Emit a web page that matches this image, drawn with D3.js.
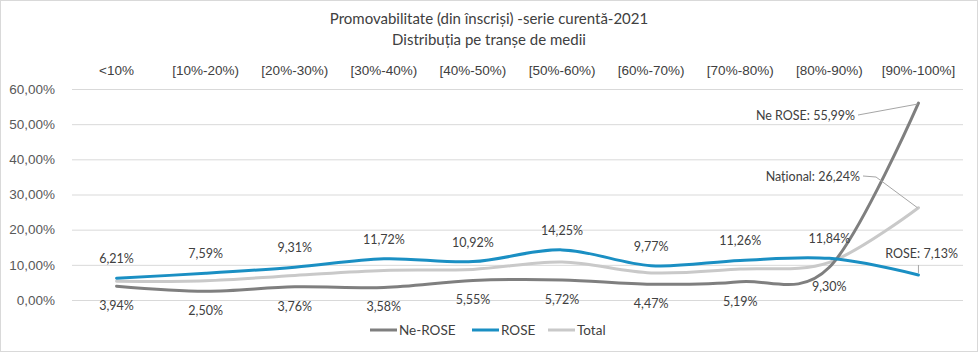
<!DOCTYPE html>
<html>
<head>
<meta charset="utf-8">
<script src="https://cdn.jsdelivr.net/npm/d3@7"></script>
<style>
	body { margin: 0; background: #fff; }
	svg { display: block; font-family: Lato, "Open Sans", sans-serif; }
	.axis .domain { display: none; }
	.grid line { stroke: #d9d9d9; }
</style>
</head>
<body>
<svg id="chart"></svg>
<script>
// data
const categories = ['<10%', '[10%-20%)', '[20%-30%)', '[30%-40%)', '[40%-50%)', '[50%-60%)', '[60%-70%)', '[70%-80%)', '[80%-90%)', '[90%-100%]'];
const neRoseValues = [3.94, 2.50, 3.76, 3.58, 5.55, 5.72, 4.47, 5.19, 9.30, 55.99];
const roseValues = [6.21, 7.59, 9.31, 11.72, 10.92, 14.25, 9.77, 11.26, 11.84, 7.13];
const totalValues = [5.3, 5.5, 7.0, 8.4, 8.7, 10.8, 7.7, 8.8, 10.7, 26.24];
const yTicks = [0, 10, 20, 30, 40, 50, 60];
const titleLines = ['Promovabilitate (din înscriși) -serie curentă-2021', 'Distribuția pe tranșe de medii'];

const series = [
	{ name: 'Ne-ROSE', values: neRoseValues, color: '#7f7f7f', labels: 'below', callout: 'Ne ROSE: ' },
	{ name: 'ROSE', values: roseValues, color: '#1a8fc3', labels: 'above', callout: 'ROSE: ' },
	{ name: 'Total', values: totalValues, color: '#c9c9c9', labels: null, callout: 'Național: ' }
];

// romanian number format: 12,34%
const ro = d3.formatLocale({ decimal: ',', thousands: '.', grouping: [3], currency: ['', ' lei'] });
const pct = (v) => ro.format('.2f')(v) + '%';

class SmoothLineChart {

	/**
	* @param {string} selector svg selector
	* @param {object} options sizes
	*/
	constructor(selector, options) {
		let defaults = {
			width: 978,
			height: 352,
			plot: { left: 72, right: 963, top: 89, bottom: 300 }
		};
		this.settings = Object.assign({}, defaults, options);
		this.svg = d3.select(selector)
			.attr('width', this.settings.width)
			.attr('height', this.settings.height);
		this.createChart();
	}

	_createScales() {
		let p = this.settings.plot;
		this.x = d3.scaleBand().domain(categories).range([p.left, p.right]);
		this.y = d3.scaleLinear().domain([0, 60]).range([p.bottom, p.top]);
		this.cx = (c) => this.x(c) + this.x.bandwidth() / 2;
	}

	_addFrame() {
		this.svg.append('rect')
			.attr('x', 0.5).attr('y', 0.5)
			.attr('width', this.settings.width - 1)
			.attr('height', this.settings.height - 1)
			.attr('fill', '#fff')
			.attr('stroke', '#d9d9d9');

		this.svg.append('g')
			.selectAll('text')
			.data(titleLines)
			.enter()
			.append('text')
			.attr('x', 489)
			.attr('y', (d, i) => 24 + i * 21)
			.attr('text-anchor', 'middle')
			.attr('fill', '#404040')
			.style('font-size', '15px')
			.text((d) => d);
	}

	_createAxes() {
		let p = this.settings.plot;
		// value axis with gridlines
		let yAxis = d3.axisLeft(this.y)
			.tickValues(yTicks)
			.tickSize(-(p.right - p.left))
			.tickPadding(17)
			.tickFormat((d) => ro.format('.2f')(d) + '%');

		this.svg.append('g')
			.attr('class', 'axis grid')
			.attr('transform', 'translate(' + p.left + ',0)')
			.call(yAxis)
			.call((g) => g.selectAll('text').attr('fill', '#595959').style('font-size', '13.5px'));

		// categories sit on top
		let xAxis = d3.axisTop(this.x).tickSize(0).tickPadding(0);
		this.svg.append('g')
			.attr('class', 'axis')
			.attr('transform', 'translate(0,75)')
			.call(xAxis)
			.call((g) => g.selectAll('text').attr('fill', '#404040').style('font-size', '13.5px'));
	}

	_addLines() {
		let line = d3.line()
			.x((d, i) => this.cx(categories[i]))
			.y((d) => this.y(d))
			.curve(d3.curveCardinal.tension(0));

		// draw total first, then ne-rose and rose on top
		[series[2], series[0], series[1]].forEach((s) => {
			this.svg.append('path')
				.datum(s.values)
				.attr('fill', 'none')
				.attr('stroke', s.color)
				.attr('stroke-width', 3)
				.attr('stroke-linecap', 'round')
				.attr('d', line);
		});
	}

	_addLabels() {
		let last = categories.length - 1;
		series.forEach((s) => {
			if (!s.labels) {
				return;
			}
			this.svg.append('g')
				.selectAll('text')
				.data(s.values.slice(0, last))
				.enter()
				.append('text')
				.attr('x', (d, i) => this.cx(categories[i]))
				.attr('y', (d) => this.y(d) + (s.labels === 'above' ? -15 : 24))
				.attr('text-anchor', 'middle')
				.attr('fill', '#404040')
				.style('font-size', '12.5px')
				.text((d) => pct(d));
		});

		// callouts for the last category
		let xl = this.cx(categories[last]),
			calls = [
				{ s: series[0], tx: 855, ty: 120, path: (px, py) => [[858, 115], [px - 1, py + 1]] },
				{ s: series[2], tx: 860, ty: 181, path: (px, py) => [[863, 176], [876, 177], [px - 1, py]] },
				{ s: series[1], tx: 958, ty: 258, path: (px, py) => [[px, 265], [px, py - 2]] }
			];

		calls.forEach((c) => {
			let v = c.s.values[last],
				py = this.y(v);
			this.svg.append('polyline')
				.attr('points', c.path(xl, py).join(' '))
				.attr('fill', 'none')
				.attr('stroke', '#a6a6a6')
				.attr('stroke-width', 1);
			this.svg.append('text')
				.attr('x', c.tx)
				.attr('y', c.ty)
				.attr('text-anchor', 'end')
				.attr('fill', '#404040')
				.style('font-size', '12.5px')
				.text(c.s.callout + pct(v));
		});
	}

	_addLegend() {
		let legend = this.svg.append('g').attr('transform', 'translate(370,330)'),
			offsets = [0, 102, 178];

		series.forEach((s, i) => {
			let g = legend.append('g').attr('transform', 'translate(' + offsets[i] + ',0)');
			g.append('line')
				.attr('x1', 0).attr('x2', 27)
				.attr('stroke', s.color)
				.attr('stroke-width', 3);
			g.append('text')
				.attr('x', 29)
				.attr('dy', '0.35em')
				.attr('fill', '#404040')
				.style('font-size', '13.5px')
				.text(s.name);
		});
	}

	createChart() {
		this._createScales();
		this._addFrame();
		this._createAxes();
		this._addLines();
		this._addLabels();
		this._addLegend();
	}
}

new SmoothLineChart('#chart');
</script>
</body>
</html>
